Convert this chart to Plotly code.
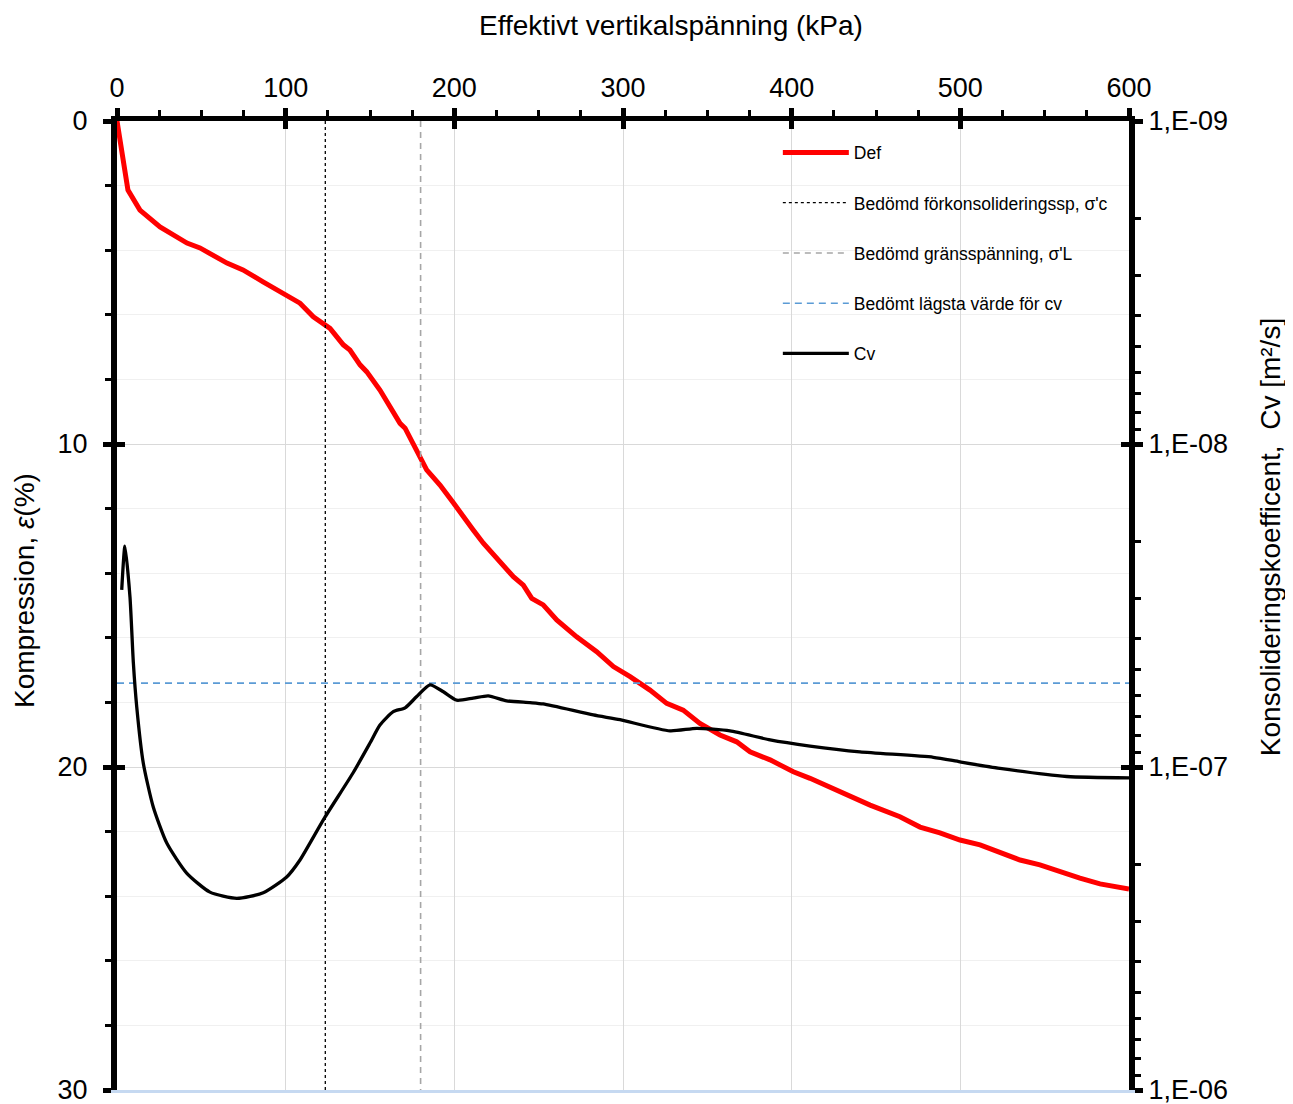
import plotly.graph_objects as go

# ---- data ----
def_x = [0, 2.8, 6.5, 13.6, 25.5, 41.5, 49.2, 65.2, 74.7, 86.6, 102.6, 108.5, 116.4, 126.3, 134.2,
         138.1, 144.1, 148.0, 155.9, 159.9, 167.8, 170.8, 177.7, 183.6, 191.5, 195.5, 199.4, 211.2,
         217.2, 235.0, 240.9, 245.9, 252.7, 260.7, 272.5, 284.4, 294.3, 304.2, 316.0, 325.9, 335.7,
         345.6, 357.5, 367.4, 375.3, 387.2, 401.0, 410.9, 424.7, 434.6, 446.5, 464.2, 476.1, 487.9,
         499.8, 511.7, 523.5, 535.4, 547.2, 559.1, 570.9, 582.8, 600]
def_y = [0, 0.9, 2.14, 2.76, 3.28, 3.78, 3.93, 4.40, 4.61, 4.98, 5.45, 5.64, 6.06, 6.42, 6.93,
         7.09, 7.55, 7.76, 8.33, 8.69, 9.36, 9.51, 10.19, 10.80, 11.27, 11.58, 11.82, 12.66,
         13.07, 14.11, 14.37, 14.78, 14.98, 15.45, 15.97, 16.43, 16.89, 17.20, 17.62, 18.03, 18.24,
         18.65, 19.01, 19.22, 19.53, 19.78, 20.15, 20.35, 20.66, 20.92, 21.18, 21.54, 21.86, 22.04,
         22.26, 22.41, 22.66, 22.88, 23.03, 23.25, 23.44, 23.62, 23.78]

cv_x = [2.8, 4.7, 7.7, 9.7, 11.7, 15.6, 21.5, 29.5, 41.3, 55.1, 71.0, 86.7, 100.6, 108.5, 114.4,
        123.3, 140.1, 150.0, 155.9, 163.8, 170.8, 177.7, 185.6, 193.5, 201.4, 211.2, 220.1, 231.0,
        244.9, 252.7, 282.4, 298.2, 327.9, 343.7, 363.4, 387.2, 410.9, 440.5, 484.0, 499.8, 523.5,
        563.1, 600]
cv_y = [2.83e-8, 2.07e-8, 2.98e-8, 4.76e-8, 6.51e-8, 9.73e-8, 1.33e-7, 1.72e-7, 2.13e-7, 2.44e-7,
        2.55e-7, 2.45e-7, 2.19e-7, 1.94e-7, 1.72e-7, 1.43e-7, 1.04e-7, 8.43e-8, 7.41e-8, 6.74e-8,
        6.56e-8, 6.05e-8, 5.57e-8, 5.85e-8, 6.21e-8, 6.12e-8, 6.02e-8, 6.24e-8, 6.32e-8, 6.38e-8,
        6.90e-8, 7.14e-8, 7.73e-8, 7.59e-8, 7.73e-8, 8.24e-8, 8.61e-8, 8.98e-8, 9.33e-8, 9.64e-8,
        1.01e-7, 1.07e-7, 1.08e-7]

sigma_c = 123.5      # Bedömd förkonsolideringsspänning (kPa)
sigma_L = 180.0      # Bedömd gränsspänning (kPa)
cv_min = 5.5e-8      # Bedömt lägsta värde för cv (m²/s)

x_range = [0, 600]
eps_range = [0, 30]
x_ticks = [0, 100, 200, 300, 400, 500, 600]
eps_ticks = [0, 10, 20, 30]
cv_ticks = [1e-9, 1e-8, 1e-7, 1e-6]
cv_ticktext = ["1,E-09", "1,E-08", "1,E-07", "1,E-06"]

x_title = "Effektivt vertikalspänning (kPa)"
y_title = "Kompression, <i>ε</i>(%)"
y2_title = "Konsolideringskoefficent,  Cv [m²/s]"

FONT = "Arial, Liberation Sans, sans-serif"

fig = go.Figure()

fig.add_trace(go.Scatter(x=def_x, y=def_y, mode="lines", name="Def",
                         line=dict(color="#ff0000", width=5), legendgroup="a"))
fig.add_trace(go.Scatter(x=[sigma_c, sigma_c], y=eps_range, mode="lines",
                         name="Bedömd förkonsolideringssp, σ'c",
                         line=dict(color="black", width=1.3, dash="3px,3px"), legendgroup="b"))
fig.add_trace(go.Scatter(x=[sigma_L, sigma_L], y=eps_range, mode="lines",
                         name="Bedömd gränsspänning, σ'L",
                         line=dict(color="#a6a6a6", width=1.6, dash="6px,5px"), legendgroup="c"))
fig.add_trace(go.Scatter(x=x_range, y=[cv_min, cv_min], mode="lines", yaxis="y2",
                         name="Bedömt lägsta värde för cv",
                         line=dict(color="#5b9bd5", width=1.6, dash="7px,5px"), legendgroup="d"))
fig.add_trace(go.Scatter(x=cv_x, y=cv_y, mode="lines", yaxis="y2", name="Cv",
                         line=dict(color="black", width=3.3, shape="spline", smoothing=0.6),
                         legendgroup="e"))

# dummy traces to activate overlay axes (crossing major ticks, bottom line)
fig.add_trace(go.Scatter(x=[None], y=[None], xaxis="x2", yaxis="y3", showlegend=False, hoverinfo="skip"))
fig.add_trace(go.Scatter(x=[None], y=[None], xaxis="x3", yaxis="y4", showlegend=False, hoverinfo="skip"))

tickfont = dict(family=FONT, size=27, color="black")
titlefont = dict(family=FONT, size=28, color="black")

fig.update_layout(
    width=1285, height=1096,
    margin=dict(l=109, r=164, t=113, b=14, autoexpand=False),
    paper_bgcolor="white", plot_bgcolor="white",
    font=dict(family=FONT, color="black"),
    showlegend=True,
    legend=dict(x=0.653, y=0.986, xanchor="left", yanchor="top",
                bgcolor="rgba(255,255,255,0)", font=dict(family=FONT, size=17.5, color="black"),
                traceorder="grouped", tracegroupgap=24.5, itemwidth=66),
    annotations=[
        dict(text=x_title, xref="paper", yref="paper", x=0.5474, y=1.099, showarrow=False,
             xanchor="center", yanchor="middle", font=titlefont),
        dict(text=y_title, xref="paper", yref="paper", x=-0.0909, y=0.515, showarrow=False,
             xanchor="center", yanchor="middle", textangle=-90, font=titlefont),
        dict(text=y2_title, xref="paper", yref="paper", x=1.1405, y=0.5707, showarrow=False,
             xanchor="center", yanchor="middle", textangle=-90, font=titlefont),
    ],
    xaxis=dict(side="top", range=x_range, tickvals=x_ticks, tickfont=tickfont, automargin=False,
               showline=True, linecolor="black", linewidth=5, mirror=False,
               ticks="outside", ticklen=8, tickwidth=5, tickcolor="black", ticklabelstandoff=0,
               ticklabeloverflow="allow",
               showgrid=True, gridcolor="#d9d9d9", gridwidth=1.3, zeroline=False,
               minor=dict(ticks="outside", dtick=25, tick0=0, ticklen=6, tickwidth=3,
                          tickcolor="black", showgrid=False),
               fixedrange=True),
    xaxis2=dict(overlaying="x", side="bottom", anchor="y", range=x_range, showline=True,
                linecolor="#c6d9f1", linewidth=2.5, showticklabels=False, ticks="",
                showgrid=False, zeroline=False, automargin=False),
    xaxis3=dict(overlaying="x", side="top", anchor="y", range=x_range, tickvals=x_ticks,
                ticks="inside", ticklen=8, tickwidth=5, tickcolor="black", automargin=False,
                showticklabels=False, showgrid=False, showline=False, zeroline=False),
    yaxis=dict(range=[eps_range[1], eps_range[0]], tickvals=eps_ticks, tickfont=tickfont,
               automargin=False, ticklabeloverflow="allow",
               showline=True, linecolor="black", linewidth=6,
               ticks="outside", ticklen=8, tickwidth=5, tickcolor="black", ticklabelstandoff=10,
               showgrid=True, gridcolor="#d9d9d9", gridwidth=1.3, zeroline=False,
               minor=dict(ticks="outside", dtick=2, tick0=0, ticklen=6, tickwidth=3,
                          tickcolor="black", showgrid=True, gridcolor="#f0f0f0", gridwidth=1.3)),
    yaxis2=dict(overlaying="y", side="right", type="log", range=[-6, -9], automargin=False,
                tickvals=cv_ticks, ticktext=cv_ticktext, tickfont=tickfont,
                ticklabeloverflow="allow",
                showline=True, linecolor="black", linewidth=6,
                ticks="outside", ticklen=8, tickwidth=5, tickcolor="black",
                showgrid=False, zeroline=False,
                minor=dict(ticks="outside", ticklen=6, tickwidth=3, tickcolor="black",
                           tickvals=[m * 10.0 ** e for e in (-9, -8, -7) for m in range(2, 10)],
                           showgrid=False)),
    yaxis3=dict(overlaying="y", side="left", anchor="x", range=[eps_range[1], eps_range[0]],
                tickvals=eps_ticks, ticks="inside", ticklen=8, tickwidth=5, tickcolor="black",
                automargin=False,
                showticklabels=False, showgrid=False, showline=False, zeroline=False),
    yaxis4=dict(overlaying="y", side="right", anchor="x", type="log", range=[-6, -9],
                tickvals=cv_ticks, ticks="inside", ticklen=8, tickwidth=5, tickcolor="black",
                automargin=False,
                showticklabels=False, showgrid=False, showline=False, zeroline=False),
)

fig.write_html("out.html")
